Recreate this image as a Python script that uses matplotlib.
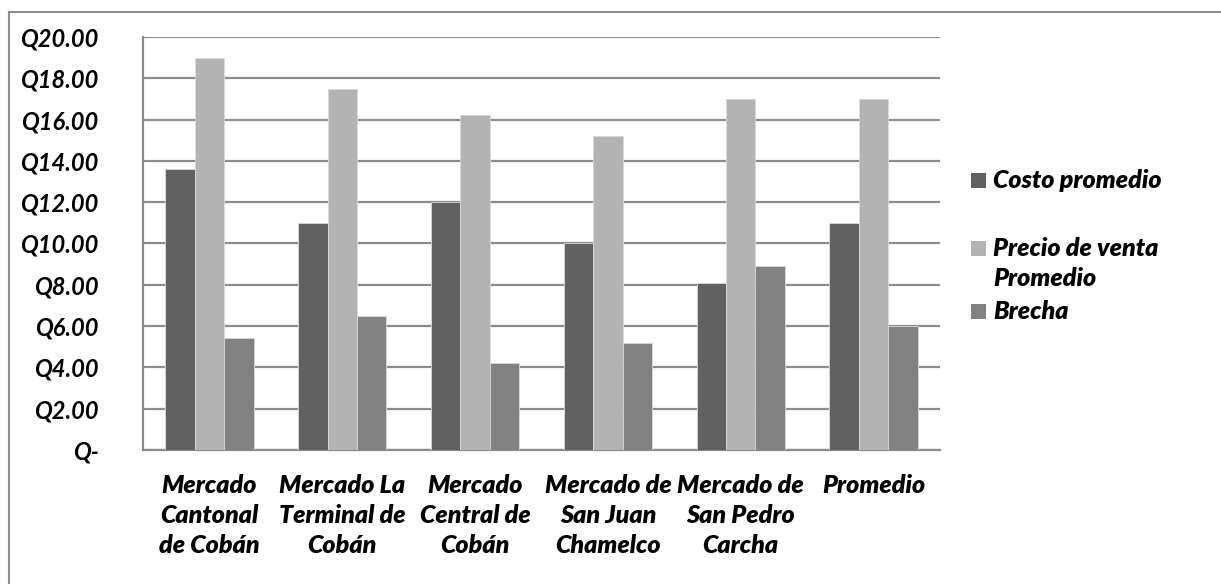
import matplotlib
matplotlib.use("Agg")
import matplotlib.pyplot as plt
from matplotlib.patches import Rectangle
from matplotlib.lines import Line2D
import numpy as np

# Markets (x categories) and the three series in quetzales
categories = [
    "Mercado\nCantonal\nde Cobán",
    "Mercado La\nTerminal de\nCobán",
    "Mercado\nCentral de\nCobán",
    "Mercado de\nSan Juan\nChamelco",
    "Mercado de\nSan Pedro\nCarcha",
    "Promedio",
]
series_names = ["Costo promedio", "Precio de venta\nPromedio", "Brecha"]
costo_promedio = [13.6, 11.0, 12.0, 10.0, 8.1, 11.0]
precio_venta = [19.0, 17.5, 16.2, 15.2, 17.0, 17.0]
brecha = [5.4, 6.5, 4.2, 5.2, 8.9, 6.0]
y_ticks = [0, 2, 4, 6, 8, 10, 12, 14, 16, 18, 20]

series_values = [costo_promedio, precio_venta, brecha]
colors = ["#616161", "#b3b3b3", "#818181"]

W, H = 1221, 584
fig = plt.figure(figsize=(W / 100, H / 100), dpi=100)
fig.patch.set_facecolor("white")

font = dict(family="Lato", weight="heavy", style="italic")
fsize = 18
lsp = 1.39

# Chart area outline
fig.add_artist(Line2D([9 / W, 9 / W], [0, 1 - 12 / H], transform=fig.transFigure,
                      color="#8c8c8c", lw=1.5))
fig.add_artist(Line2D([9 / W, 1], [1 - 12 / H, 1 - 12 / H], transform=fig.transFigure,
                      color="#8c8c8c", lw=1.5))

ax = fig.add_axes([143 / W, (H - 450) / H, 797 / W, 413 / H])

x = np.arange(len(categories))
bw = 0.222
for i, (vals, col, name) in enumerate(zip(series_values, colors, series_names)):
    ax.bar(x + (i - 1) * bw, vals, width=bw, color=col, edgecolor="#d9d9d9",
           linewidth=0.6, zorder=3, label=name)

ax.set_xlim(-0.5, len(categories) - 0.5)
ax.set_ylim(0, 20)
ax.set_yticks(y_ticks)
ax.set_yticklabels(["Q-" if v == 0 else f"Q{v:.2f}" for v in y_ticks])
ax.set_xticks(x)
ax.set_xticklabels(categories, linespacing=lsp)
for lab in ax.get_xticklabels():
    lab.set(fontfamily=font["family"], fontweight=font["weight"],
            fontstyle=font["style"], fontsize=fsize, color="black")
for lab in ax.get_yticklabels():
    lab.set(fontfamily=font["family"], fontweight="bold",
            fontstyle=font["style"], fontsize=17, color="black")

ax.tick_params(axis="y", length=0, pad=32)
ax.tick_params(axis="x", length=0, pad=17)
ax.yaxis.grid(True, color="#8c8c8c", linewidth=1.6, zorder=0)
ax.set_axisbelow(True)
for s in ["top", "right"]:
    ax.spines[s].set_visible(False)
for s in ["left", "bottom"]:
    ax.spines[s].set_color("#8c8c8c")
    ax.spines[s].set_linewidth(1.6)

# Legend on the right side
legend_rows = [181, 249, 312]
for name, col, yc in zip(series_names, colors, legend_rows):
    fig.add_artist(Rectangle((971 / W, 1 - (yc + 7) / H), 15 / W, 15 / H,
                             transform=fig.transFigure, facecolor=col, edgecolor="none"))
    fig.text(993 / W, 1 - (yc - 12) / H, name, ha="left", va="top",
             fontsize=fsize, linespacing=lsp, color="black", **font)

fig.savefig("out.png", dpi=100, facecolor="white")
